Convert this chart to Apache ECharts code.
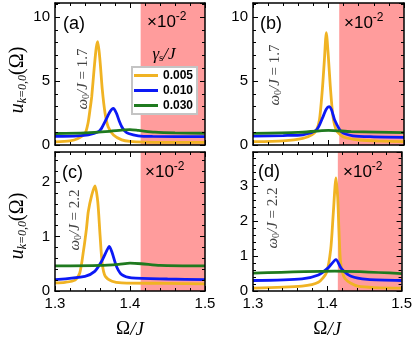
<!DOCTYPE html>
<html>
<head>
<meta charset="utf-8">
<title>u k=0,0</title>
<script src="https://cdn.jsdelivr.net/npm/echarts@6/dist/echarts.min.js"></script>
<style>
    html, body { margin: 0; padding: 0; background: #fff; }
    #main { width: 415px; height: 340px; }
</style>
</head>
<body>
<div id="main"></div>
<script>
// 图例名 gamma_s / J
var gammaNames = ['0.005', '0.010', '0.030'];
var bandStart = 1.4142; // sqrt(2), 红色区域起点
var xTicks = [1.3, 1.4, 1.5];

// (a) omega0/J = 1.7
var aOrange = [[1.30,0.25],[1.32,0.32],[1.33,0.48],[1.34,0.9],[1.344,1.7],[1.347,2.9],[1.349,3.8],[1.3524,6.1],
    [1.355,7.6],[1.357,8.07],[1.36,6.6],[1.3631,4.3],[1.3667,2.5],[1.371,1.4],[1.378,0.78],[1.389,0.4],
    [1.40,0.28],[1.42,0.22],[1.45,0.2],[1.50,0.2]];
var aBlue = [[1.30,0.68],[1.33,0.72],[1.3444,0.8],[1.3578,1.04],[1.362,1.3],[1.3667,1.82],[1.3733,2.6],
    [1.3778,2.86],[1.382,2.47],[1.3855,1.9],[1.389,1.43],[1.393,1.1],[1.398,0.9],[1.411,0.72],[1.43,0.67],[1.50,0.65]];
var aGreen = [[1.30,0.9],[1.34,0.95],[1.367,1.04],[1.393,1.18],[1.40,1.2],[1.411,1.14],[1.433,1.0],[1.46,0.94],[1.50,0.92]];

// (b) omega0/J = 1.7
var bOrange = [[1.30,0.26],[1.34,0.33],[1.366,0.52],[1.378,0.8],[1.384,1.17],[1.388,1.95],[1.3918,4.3],
    [1.3945,6.6],[1.3971,8.78],[1.3998,6.9],[1.4024,4.56],[1.406,2.2],[1.4104,1.17],[1.4192,0.65],
    [1.4413,0.39],[1.47,0.3],[1.50,0.26]];
var bBlue = [[1.30,0.7],[1.34,0.74],[1.366,0.8],[1.384,1.17],[1.3927,2.2],[1.397,2.8],[1.4007,3.0],
    [1.404,2.75],[1.4082,1.95],[1.417,1.04],[1.4324,0.72],[1.46,0.64],[1.50,0.6]];
var bGreen = [[1.30,0.91],[1.36,0.98],[1.40,1.15],[1.43,1.05],[1.50,0.96]];

// (c) omega0/J = 2.2
var cOrange = [[1.30,0.15],[1.3133,0.16],[1.3267,0.2],[1.333,0.33],[1.338,0.74],[1.342,1.15],[1.3444,1.46],
    [1.349,1.76],[1.3533,1.93],[1.357,1.64],[1.36,1.04],[1.363,0.5],[1.367,0.27],[1.376,0.18],[1.389,0.15],
    [1.45,0.14],[1.50,0.13]];
var cBlue = [[1.30,0.21],[1.34,0.27],[1.353,0.36],[1.362,0.54],[1.369,0.74],[1.3724,0.82],[1.376,0.71],
    [1.382,0.45],[1.389,0.3],[1.402,0.24],[1.45,0.22],[1.50,0.21]];
var cGreen = [[1.30,0.46],[1.36,0.47],[1.385,0.49],[1.40,0.51],[1.415,0.5],[1.44,0.47],[1.50,0.46]];

// (d) omega0/J = 2.2
var dOrange = [[1.30,0.08],[1.366,0.14],[1.388,0.25],[1.399,0.53],[1.4046,1.19],[1.408,2.2],[1.4117,3.24],
    [1.414,2.68],[1.4157,1.75],[1.418,0.81],[1.424,0.35],[1.441,0.14],[1.50,0.08]];
var dBlue = [[1.30,0.3],[1.366,0.35],[1.388,0.46],[1.4015,0.67],[1.4117,0.9],[1.419,0.64],[1.432,0.42],
    [1.454,0.33],[1.50,0.3]];
var dGreen = [[1.30,0.51],[1.41,0.57],[1.50,0.5]];

var yMax = [11.1, 11.1, 2.55, 3.98];
var yStep = [5, 5, 1, 1];

var colors = ['#f0b323', '#0c19f5', '#1f7a1f'];
var panels = [
    [aOrange, aBlue, aGreen],
    [bOrange, bBlue, bGreen],
    [cOrange, cBlue, cGreen],
    [dOrange, dBlue, dGreen]
];
var grids = [
    {left: 55, top: 3, width: 150, height: 142},
    {left: 253, top: 3, width: 151, height: 142},
    {left: 55, top: 152, width: 150, height: 143},
    {left: 253, top: 152, width: 151, height: 143}
];

var lineStyleBlack = {color: '#000', width: 1.5};

function xAx(gi, pos, showLabel, showName){
    return {
        type: 'value', gridIndex: gi, position: pos, z: 5,
        min: xTicks[0], max: xTicks[xTicks.length - 1], interval: 0.1,
        axisLine: {show: true, onZero: false, lineStyle: lineStyleBlack},
        axisTick: {show: true, inside: true, length: 5, lineStyle: {color: '#000', width: 1}},
        minorTick: {show: true, splitNumber: 5, length: 3, lineStyle: {color: '#000', width: 1}},
        splitLine: {show: false},
        axisLabel: {
            show: showLabel, margin: 5, fontSize: 15, color: '#000', fontFamily: 'Liberation Sans',
            formatter: function(v){ return v.toFixed(1); }
        },
        name: showName ? '{r|Ω}{i|/J}' : '',
        nameLocation: 'middle', nameGap: 29,
        nameTextStyle: {
            rich: {
                r: {fontFamily: 'Liberation Serif', fontSize: 19, color: '#000'},
                i: {fontFamily: 'Liberation Serif', fontStyle: 'italic', fontSize: 19, color: '#000'}
            }
        }
    };
}
function yAx(gi, pos, showLabel){
    return {
        type: 'value', gridIndex: gi, position: pos, z: 5,
        min: 0, max: yMax[gi], interval: yStep[gi],
        axisLine: {show: true, onZero: false, lineStyle: lineStyleBlack},
        axisTick: {show: true, inside: true, length: 5, lineStyle: {color: '#000', width: 1}},
        minorTick: {show: true, splitNumber: 5, length: 3, lineStyle: {color: '#000', width: 1}},
        splitLine: {show: false},
        axisLabel: {show: showLabel, showMaxLabel: false, margin: 5, fontSize: 15, color: '#000', fontFamily: 'Liberation Sans'}
    };
}

var xAxes = [], yAxes = [], series = [];
for(var p = 0; p < 4; p++){
    xAxes.push(xAx(p, 'bottom', p >= 2, p >= 2));
    xAxes.push(xAx(p, 'top', false, false));
    yAxes.push(yAx(p, 'left', true));
    yAxes.push(yAx(p, 'right', false));
    for(var s = 0; s < 3; s++){
        var ser = {
            name: gammaNames[s], type: 'line',
            xAxisIndex: p * 2, yAxisIndex: p * 2,
            data: panels[p][s],
            symbol: 'none', smooth: 0.25, z: 2 + s * 0.1,
            lineStyle: {color: colors[s], width: 2.8},
            itemStyle: {color: colors[s]},
            silent: true
        };
        //红色区域
        if(s === 2){
            ser.markArea = {
                silent: true,
                itemStyle: {color: '#ff9c9c', opacity: 1},
                label: {show: false},
                data: [[{xAxis: bandStart}, {xAxis: 1.5}]]
            };
        }
        series.push(ser);
    }
}

// 文字标注
var serif = 'Liberation Serif';
function omegaText(x, y, val){
    return {
        type: 'text', x: x, y: y, rotation: Math.PI / 2, z: 10,
        style: {
            text: '{i|ω}{s|0}{i|/J} = ' + val,
            fontFamily: serif, fontSize: 15, fill: '#444',
            align: 'center', verticalAlign: 'middle',
            rich: {
                i: {fontFamily: serif, fontStyle: 'italic', fontSize: 15, fill: '#444'},
                s: {fontFamily: serif, fontSize: 10, fill: '#444', padding: [7, 0, 0, 0]}
            }
        }
    };
}
function timesText(x, y){
    return {
        type: 'text', x: x, y: y, z: 10,
        style: {
            text: '×10{s|-2}', fontFamily: 'Liberation Sans', fontSize: 17, fill: '#000',
            align: 'left', verticalAlign: 'middle',
            rich: {s: {fontFamily: 'Liberation Sans', fontSize: 12, fill: '#000', padding: [0, 0, 10, 0]}}
        }
    };
}
function labelText(x, y, t){
    return {
        type: 'text', x: x, y: y, z: 10,
        style: {text: t, fontFamily: 'Liberation Sans', fontSize: 18, fill: '#000', align: 'left', verticalAlign: 'middle'}
    };
}
function uText(x, y){
    return {
        type: 'text', x: x, y: y, rotation: Math.PI / 2, z: 10,
        style: {
            text: '{i|u}{s|k=0,0}{r|(Ω)}',
            align: 'center', verticalAlign: 'middle',
            rich: {
                i: {fontFamily: serif, fontStyle: 'italic', fontSize: 20, fill: '#000'},
                s: {fontFamily: serif, fontStyle: 'italic', fontSize: 12, fill: '#000', padding: [9, 0, 0, 0]},
                r: {fontFamily: serif, fontSize: 20, fill: '#000'}
            }
        }
    };
}

var graphics = [
    labelText(63, 24, '(a)'), labelText(260, 24, '(b)'),
    labelText(62, 173, '(c)'), labelText(258, 172, '(d)'),
    timesText(147, 22), timesText(344, 23), timesText(145, 172), timesText(343, 172),
    omegaText(83, 79, '1.7'), omegaText(275, 75, '1.7'),
    omegaText(75, 220, '2.2'), omegaText(273, 218, '2.2'),
    uText(18, 80), uText(18, 226),
    {
        type: 'text', x: 164, y: 55, z: 10,
        style: {
            text: '{i|γ}{s|s}{i|/J}', align: 'center', verticalAlign: 'middle',
            rich: {
                i: {fontFamily: serif, fontStyle: 'italic', fontSize: 17, fill: '#000'},
                s: {fontFamily: serif, fontSize: 11, fill: '#000', padding: [7, 0, 0, 0]}
            }
        }
    }
];

var myChart = echarts.init(document.getElementById('main'));
var option = {
    animation: false,
    grid: grids,
    xAxis: xAxes,
    yAxis: yAxes,
    legend: {
        data: gammaNames, orient: 'vertical', left: 132, top: 67,
        icon: 'rect', itemWidth: 24, itemHeight: 3, itemGap: 2,
        padding: [2, 4, 2, 2],
        backgroundColor: '#fff', borderColor: '#c4c4c4', borderWidth: 2,
        selectedMode: false, z: 8,
        textStyle: {fontFamily: 'Liberation Sans', fontWeight: 'bold', fontSize: 12, color: '#000', lineHeight: 13}
    },
    graphic: graphics,
    series: series
};
myChart.setOption(option);
</script>
</body>
</html>
